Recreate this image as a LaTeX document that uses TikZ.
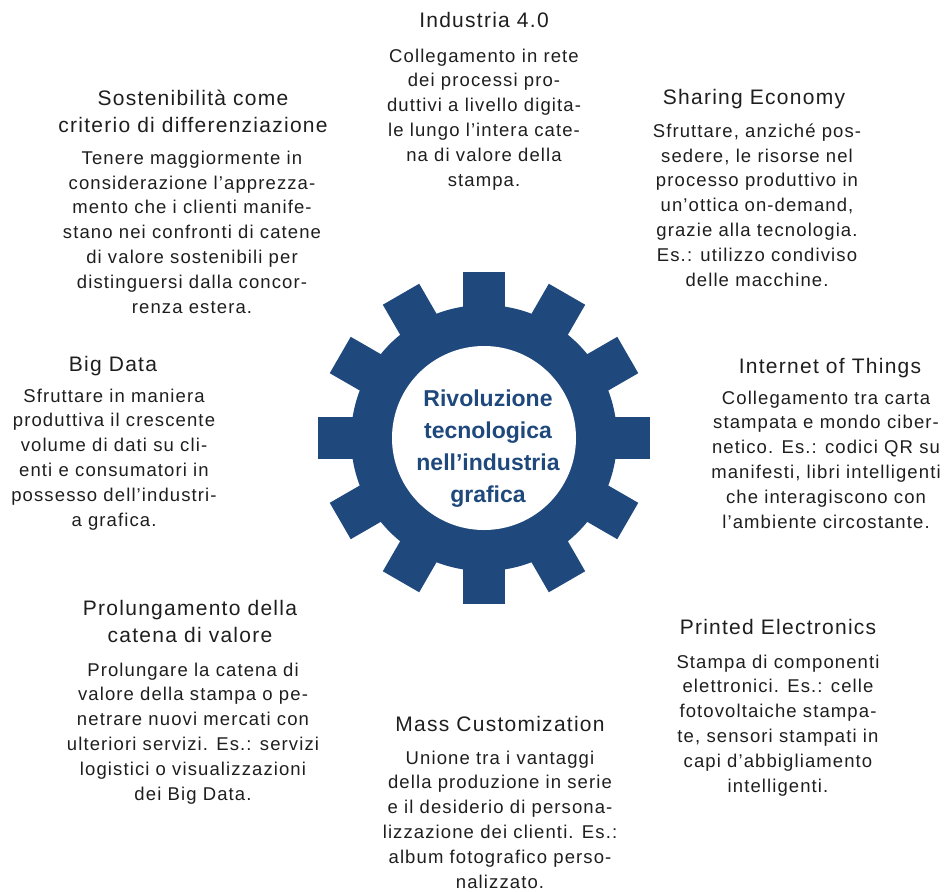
\documentclass[tikz,border=0pt]{standalone}
\usepackage{fontspec}
\usetikzlibrary{calc}
\newfontfamily\bodyfont{Liberation Sans}[LetterSpace=6]
\newfontfamily\hubfont{Liberation Sans}
\definecolor{gearblue}{RGB}{31,73,125}
\definecolor{textgray}{RGB}{30,30,30}
\tikzset{
  blocktitle/.style={font=\bodyfont\fontsize{21}{27}\selectfont, align=center, anchor=base, inner sep=0pt, text=textgray},
  blockbody/.style={font=\bodyfont\fontsize{18.5}{24.8}\selectfont, align=center, anchor=base, inner sep=0pt, text=textgray},
  hubtext/.style={font=\hubfont\bfseries\fontsize{23}{31.7}\selectfont, align=center, anchor=base, inner sep=0pt, text=gearblue},
}
\begin{document}
\begin{tikzpicture}[x=1pt,y=-1pt]
\useasboundingbox (0,0) rectangle (952,891);
\coordinate (c) at (484,438);
% gear
\fill[gearblue] (c) circle (133);
\foreach \a in {0,30,...,330}{
  \fill[gearblue, rotate around={\a:(c)}] ($(c)+(-21,-166)$) rectangle ($(c)+(21,-120)$);
}
\fill[white] (c) circle (92);
% (anchor "base" of a multi-line node = baseline of its last line)
\node[hubtext] (hub) at (488,502) {Rivoluzione\\tecnologica\\nell’industria\\grafica};

% Industria 4.0
\node[blocktitle] (t1) at (484,28) {Industria 4.0};
\node[blockbody] (b1) at (484,186) {Collegamento in rete\\dei processi pro-\\duttivi a livello digita-\\le lungo l’intera cate-\\na di valore della\\stampa.};

% Sostenibilita
\node[blocktitle] (t2) at (193,132) {Sostenibilità come\\criterio di differenziazione};
\node[blockbody] (b2) at (192,313) {Tenere maggiormente in\\considerazione l’apprezza-\\mento che i clienti manife-\\stano nei confronti di catene\\di valore sostenibili per\\distinguersi dalla concor-\\renza estera.};

% Sharing Economy
\node[blocktitle] (t3) at (754,104) {Sharing Economy};
\node[blockbody] (b3) at (757,286) {Sfruttare, anziché pos-\\sedere, le risorse nel\\processo produttivo in\\un’ottica on-demand,\\grazie alla tecnologia.\\Es.: utilizzo condiviso\\delle macchine.};

% Internet of Things
\node[blocktitle] (t4) at (830,373) {Internet of Things};
\node[blockbody] (b4) at (826,528) {Collegamento tra carta\\stampata e mondo ciber-\\netico. Es.: codici QR su\\manifesti, libri intelligenti\\che interagiscono con\\l’ambiente circostante.};

% Big Data
\node[blocktitle] (t5) at (113,371) {Big Data};
\node[blockbody] (b5) at (114,526) {Sfruttare in maniera\\produttiva il crescente\\volume di dati su cli-\\enti e consumatori in\\possesso dell’industri-\\a grafica.};

% Prolungamento
\node[blocktitle] (t6) at (190,642) {Prolungamento della\\catena di valore};
\node[blockbody] (b6) at (193,800) {Prolungare la catena di\\valore della stampa o pe-\\netrare nuovi mercati con\\ulteriori servizi. Es.: servizi\\logistici o visualizzazioni\\dei Big Data.};

% Printed Electronics
\node[blocktitle] (t7) at (778,634) {Printed Electronics};
\node[blockbody] (b7) at (778,792) {Stampa di componenti\\elettronici. Es.: celle\\fotovoltaiche stampa-\\te, sensori stampati in\\capi d’abbigliamento\\intelligenti.};

% Mass Customization
\node[blocktitle] (t8) at (500,731) {Mass Customization};
\node[blockbody] (b8) at (500,888) {Unione tra i vantaggi\\della produzione in serie\\e il desiderio di persona-\\lizzazione dei clienti. Es.:\\album fotografico perso-\\nalizzato.};
\end{tikzpicture}
\end{document}
